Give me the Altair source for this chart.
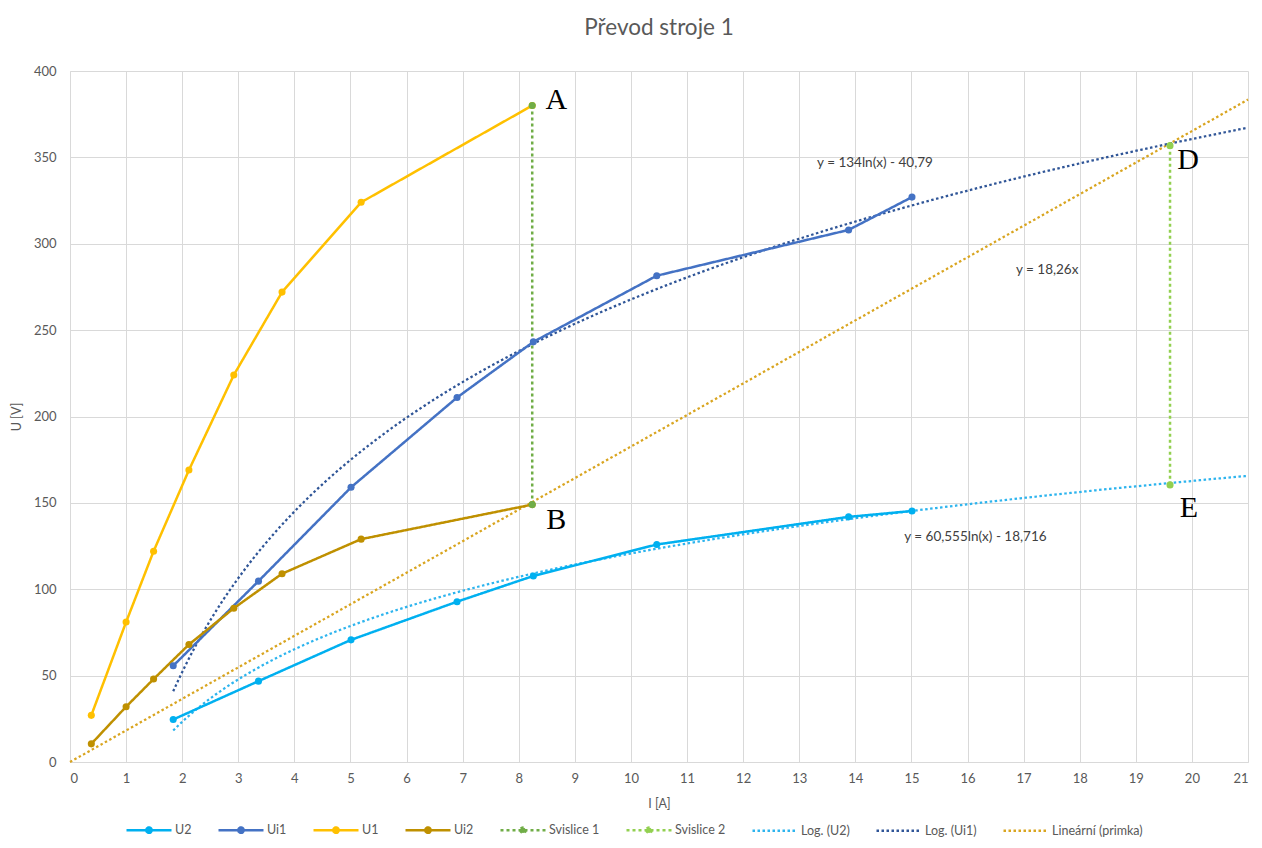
import altair as alt
import pandas as pd

# ---------------- data ----------------
SERIES = ["U2", "Ui1", "U1", "Ui2", "Svislice 1", "Svislice 2",
          "Log. (U2)", "Log. (Ui1)", "Lineární (primka)"]
COLORS = ["#00B0F0", "#4472C4", "#FFC000", "#BF9000", "#70AD47", "#92D050",
          "#2DB4EE", "#2F5597", "#D9A520"]

I_LOW = [0.38, 1.00, 1.49, 2.12, 2.92, 3.78, 5.19, 8.24]      # U1, Ui2
U1 = [27, 81, 122, 169, 224, 272, 324, 380]
Ui2 = [10.5, 32, 48, 68, 89, 109, 129, 149]

I_HIGH = [1.84, 3.36, 5.01, 6.90, 8.26, 10.46, 13.88, 15.01]  # U2, Ui1
U2 = [24.6, 46.8, 70.7, 92.8, 107.7, 125.9, 141.9, 145.3]
Ui1 = [55.7, 104.7, 159, 211, 243.2, 281.5, 308, 327]

SV1_I = [8.24, 8.24]
SV1_U = [380, 149]
SV2_I = [19.61, 19.61]
SV2_U = [356.8, 160.4]

# trendline coefficients (as printed in the chart)
LOG_U2 = (60.555, -18.716)
LOG_UI1 = (134.0, -40.79)
LIN_K = 18.26

EQ_TEXT = ["y = 134ln(x) - 40,79", "y = 18,26x", "y = 60,555ln(x) - 18,716"]
EQ_I = [14.35, 17.42, 16.14]
EQ_U = [346.5, 284.6, 130.2]

LETTERS = ["A", "B", "D", "E"]

# ---------------- tables ----------------
rows = []
for name, xs_, ys_ in [("U2", I_HIGH, U2), ("Ui1", I_HIGH, Ui1), ("U1", I_LOW, U1),
                       ("Ui2", I_LOW, Ui2), ("Svislice 1", SV1_I, SV1_U),
                       ("Svislice 2", SV2_I, SV2_U)]:
    for k, (a, b) in enumerate(zip(xs_, ys_)):
        rows.append({"series": name, "I": a, "U": b, "idx": k})
df = pd.DataFrame(rows)

letter_pts = [(SV1_I[0], SV1_U[0]), (SV1_I[1], SV1_U[1]),
              (SV2_I[0], SV2_U[0]), (SV2_I[1], SV2_U[1])]
letter_off = [(24, -6), (24, 15), (18, 14), (19, 23)]

eq_df = pd.DataFrame({"t": EQ_TEXT, "I": EQ_I, "U": EQ_U})

# ---------------- scales / encodings ----------------
DOT = [2.5, 2.5]
SOLID = [1, 0]
DASHES = [SOLID, SOLID, SOLID, SOLID, [3, 3], [3, 3], DOT, DOT, DOT]
LINE_DOT = ("M-1,0L1,0"
            "M-0.12,0A0.12,0.12 0 1,0 0.12,0A0.12,0.12 0 1,0 -0.12,0"
            "M-0.05,0A0.05,0.05 0 1,0 0.05,0A0.05,0.05 0 1,0 -0.05,0")
LINE_ONLY = "M-1,0L1,0"
SHAPES = [LINE_DOT] * 6 + [LINE_ONLY] * 3

color_scale = alt.Scale(domain=SERIES, range=COLORS)
dash_scale = alt.Scale(domain=SERIES, range=DASHES)
shape_scale = alt.Scale(domain=SERIES, range=SHAPES)

legend = alt.Legend(
    title=None, orient="none", legendX=55, legendY=735, direction="horizontal",
    columns=9, symbolSize=2025, symbolStrokeWidth=2.5, labelFontSize=12.5,
    labelColor="#595959", labelFont="Lato", labelOffset=2, columnPadding=21,
    padding=0,
)

xs = alt.Scale(domain=[0, 21], nice=False, zero=True)
ys = alt.Scale(domain=[0, 400], nice=False)

X = alt.X("I:Q", scale=xs,
          axis=alt.Axis(values=list(range(22)), title="I [A]", format="d"))
Y = alt.Y("U:Q", scale=ys,
          axis=alt.Axis(values=list(range(0, 401, 50)), title="U [V]"))
C = alt.Color("series:N", scale=color_scale, legend=legend)
D = alt.StrokeDash("series:N", scale=dash_scale, legend=legend)
S = alt.Shape("series:N", scale=shape_scale, legend=legend)

base = alt.Chart(df)

lines = base.mark_line(strokeWidth=2.5).encode(x=X, y=Y, color=C, strokeDash=D,
                                                order="idx:Q")
points = base.mark_circle(size=50, opacity=1).encode(x=X, y=Y, color=C)
legend_only = base.transform_filter("false").mark_point(filled=False).encode(
    x=X, y=Y, color=C, strokeDash=D, shape=S)


def trend(expr, name, start):
    return alt.Chart(alt.sequence(start, 21.02, 0.05)).transform_calculate(
        I="datum.data", U=expr, series=f"'{name}'"
    ).mark_line(strokeWidth=2.25).encode(x=X, y=Y, color=C, strokeDash=D)


t_u2 = trend(f"{LOG_U2[0]}*log(datum.data)+({LOG_U2[1]})", "Log. (U2)", min(I_HIGH))
t_ui1 = trend(f"{LOG_UI1[0]}*log(datum.data)+({LOG_UI1[1]})", "Log. (Ui1)", min(I_HIGH))
t_lin = trend(f"{LIN_K}*datum.data", "Lineární (primka)", 0)

eq_text = alt.Chart(eq_df).mark_text(font="Lato", fontSize=13.5, color="#404040").encode(
    x=alt.X("I:Q", scale=xs), y=alt.Y("U:Q", scale=ys), text="t:N")

letter_layers = []
for lab, (px, py), (dx, dy) in zip(LETTERS, letter_pts, letter_off):
    letter_layers.append(
        alt.Chart(pd.DataFrame({"t": [lab], "I": [px], "U": [py]})).mark_text(
            font="Liberation Serif", fontSize=30, color="#000000", dx=dx, dy=dy,
            baseline="middle", align="center"
        ).encode(x=alt.X("I:Q", scale=xs), y=alt.Y("U:Q", scale=ys), text="t:N")
    )

chart = alt.layer(
    t_lin, t_u2, t_ui1, lines, points, legend_only, eq_text, *letter_layers
).properties(
    width=1178, height=691,
    autosize=alt.AutoSizeParams(type="none"),
    padding={"left": 62, "top": 63, "right": 6, "bottom": 78},
    title=alt.TitleParams("Převod stroje 1", fontSize=22.5, color="#595959",
                          font="Lato", fontWeight="normal", anchor="middle",
                          offset=26),
).configure_view(stroke=None).configure_axis(
    gridColor="#D9D9D9", gridWidth=1, domainColor="#D9D9D9", ticks=False,
    labelFont="Lato", labelFontSize=13, labelColor="#595959",
    titleFont="Lato", titleFontSize=12.5, titleColor="#595959", titleFontWeight="normal",
).configure_axisY(labelPadding=14, titlePadding=10).configure_axisX(
    labelPadding=10, titlePadding=12)

chart.save("out.html", embed_options={"renderer": "svg", "actions": False})
